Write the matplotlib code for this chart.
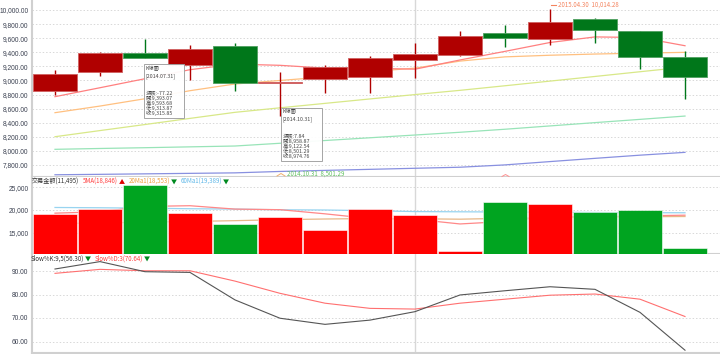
import matplotlib
matplotlib.use("Agg")
import matplotlib.pyplot as plt
from matplotlib.patches import Rectangle
from matplotlib.lines import Line2D
import numpy as np

plt.rcParams['font.family'] = ['Noto Sans CJK TC', 'DejaVu Sans']

# ---------------- data ----------------
dates = ["2014.05.30", "2014.06.30", "2014.07.31", "2014.08.29", "2014.09.30",
         "2014.10.31", "2014.11.28", "2014.12.31", "2015.01.30", "2015.02.26",
         "2015.03.31", "2015.04.30", "2015.05.29", "2015.06.30", "2015.07.31"]
opens  = [8855, 9116, 9393.07, 9219, 9489, 8958.87, 9017, 9045, 9290, 9361, 9674, 9584, 9868, 9697, 9328]
highs  = [9148, 9408, 9593.68, 9503, 9536, 9122.54, 9219, 9347, 9536, 9702, 9787, 10014.28, 9886, 9697, 9418]
lows   = [8793, 9063, 9313.87, 9006, 8855, 8501.29, 8826, 8826, 9040, 9351, 9470, 9503, 9536, 9167, 8741]
closes = [9092, 9393.07, 9315.85, 9450, 8966.92, 8974.76, 9196, 9314, 9375, 9631, 9598, 9830, 9712, 9328, 9053]

ma5   = [8770, 8897, 9025, 9153, 9232, 9215, 9176, 9174, 9160, 9291, 9413, 9539, 9618, 9610, 9493]
ma10  = [8543, 8637, 8741, 8855, 8950, 9000, 9050, 9125, 9175, 9275, 9335, 9358, 9375, 9388, 9399]
ma20  = [8202, 8289, 8375, 8462, 8548, 8612, 8675, 8738, 8800, 8860, 8925, 8991, 9057, 9124, 9190]
ma60  = [8023, 8035, 8046, 8058, 8070, 8109, 8148, 8187, 8226, 8265, 8308, 8355, 8402, 8448, 8495]
ma120 = [7662, 7668, 7675, 7682, 7689, 7709, 7724, 7739, 7754, 7769, 7802, 7849, 7895, 7940, 7980]

volume = [19111, 20289, 25556, 19259, 16889, 18370, 15556, 20148, 18889, 10889, 21704, 21407, 19481, 20000, 11495]
vol_ma5  = [19300, 19600, 20800, 20950, 20200, 20070, 19150, 18100, 17950, 16900, 17450, 18600, 18450, 18700, 18846]
vol_ma20 = [17000, 17100, 17300, 17450, 17630, 17850, 18000, 18100, 18050, 17960, 18150, 18300, 18400, 18500, 18553]
vol_ma60 = [20560, 20500, 20400, 20280, 20200, 20050, 20000, 19850, 19650, 19600, 19550, 19500, 19450, 19400, 19389]

slow_k = [90.85, 94.0, 89.7, 89.4, 77.7, 69.9, 67.3, 69.1, 72.7, 79.8, 81.6, 83.3, 82.2, 72.4, 56.3]
slow_d = [89.0, 90.7, 90.1, 90.1, 85.7, 80.5, 76.3, 74.1, 73.8, 76.3, 78.0, 79.7, 80.2, 78.0, 70.64]

price_ticks = [7800, 8000, 8200, 8400, 8600, 8800, 9000, 9200, 9400, 9600, 9800, 10000]
vol_ticks = [15000, 20000, 25000]
stoch_ticks = [60, 70, 80, 90]

tooltips = [
    (2, ["K線圖", "[2014.07.31]", "", "漲跌:-77.22", "開:9,393.07", "高:9,593.68", "低:9,313.87", "收:9,315.85"]),
    (5, ["K線圖", "[2014.10.31]", "", "漲跌:7.84", "開:8,958.87", "高:9,122.54", "低:8,501.29", "收:8,974.76"]),
]

# ---------------- style ----------------
W, H = 720, 354
C_UP, C_DN = "#b00000", "#00771a"
C_UP_E, C_DN_E = "#d06060", "#50a060"
V_UP, V_DN = "#ff0000", "#00a420"
GRID = "#d8d8d8"
SPINE = "#d0d0d0"
TXT = "#3a4050"
TICKFONT = ["Liberation Sans", "DejaVu Sans"]

def fx(x):
    return x / W

def fy(y):
    return 1 - y / H

fig = plt.figure(figsize=(W / 100, H / 100), dpi=100)
fig.patch.set_facecolor("white")
renderer = fig.canvas.get_renderer()

L, R = 32, 720
def add_ax(top, bottom):
    return fig.add_axes([fx(L), fy(bottom), fx(R - L), (bottom - top) / H])

ax1 = add_ax(0, 177)
ax2 = add_ax(177, 253.5)
ax3 = add_ax(253.5, 353)

x = np.arange(len(dates))
xlim = ((L - 55) / 45, (R - 55) / 45)

for ax in (ax1, ax2, ax3):
    ax.set_xlim(*xlim)
    ax.set_xticks([])
    for s in ("top", "right"):
        ax.spines[s].set_visible(False)
    ax.spines["left"].set_color(SPINE)
    ax.spines["left"].set_linewidth(1.5)
    ax.spines["bottom"].set_color(SPINE)
    ax.spines["bottom"].set_linewidth(1.5)
    ax.tick_params(axis="y", length=0, labelsize=4.8, labelcolor=TXT, pad=2.5)
    ax.grid(axis="y", color=GRID, linestyle=(0, (1.5, 2)), linewidth=0.7)
    ax.set_axisbelow(True)
    ax.axvline(8, color="#d8d8d8", linewidth=1.0, zorder=0.5)

# ---------------- main panel ----------------
ax1.set_ylim(10000 - 167 * 14.19, 10000 + 10 * 14.19)
ax1.set_yticks(price_ticks)
ax1.set_yticklabels([f"{v:,.2f}" for v in price_ticks], family=TICKFONT)

for col, vals in (("#8890e0", ma120), ("#98e4b8", ma60), ("#d8e888", ma20),
                  ("#ffc080", ma10), ("#ff8080", ma5)):
    ax1.plot(x, vals, color=col, linewidth=0.9, zorder=2)

for i in range(len(dates)):
    o, h, l, c = opens[i], highs[i], lows[i], closes[i]
    up = c >= o
    col = C_UP if up else C_DN
    ecol = C_UP_E if up else C_DN_E
    ax1.vlines(x[i], l, h, color=col, linewidth=1.0, zorder=3)
    bot = min(o, c)
    hgt = max(abs(c - o), 12)
    ax1.bar(x[i], hgt, bottom=bot, width=0.98, color=col, edgecolor=ecol,
            linewidth=0.6, zorder=4)

# ---------------- volume panel ----------------
ax2.set_ylim(20000 - 43.5 * 222.2, 20000 + 33 * 222.2)
ax2.set_yticks(vol_ticks)
ax2.set_yticklabels([f"{v:,}" for v in vol_ticks], family=TICKFONT)
ax2.plot(x, vol_ma60, color="#98d4f0", linewidth=0.9, zorder=2)
ax2.plot(x, vol_ma20, color="#e8b888", linewidth=0.9, zorder=2)
ax2.plot(x, vol_ma5, color="#ff8888", linewidth=0.9, zorder=2)
vcols = [V_UP if closes[i] >= opens[i] else V_DN for i in range(len(dates))]
ax2.bar(x, [v - 5000 for v in volume], bottom=5000, width=0.98, color=vcols,
        edgecolor="white", linewidth=0.4, zorder=3)

# ---------------- stochastic panel ----------------
ax3.set_ylim(90 - 82 / 2.35, 90 + 17.5 / 2.35)
ax3.set_yticks(stoch_ticks)
ax3.set_yticklabels([f"{v:.2f}" for v in stoch_ticks], family=TICKFONT)
ax3.plot(x, slow_d, color="#ff7070", linewidth=0.8, zorder=2)
ax3.plot(x, slow_k, color="#555555", linewidth=0.8, zorder=3)

# ---------------- texts ----------------
FS = 4.4
def ftext(px, py, s, color, size=FS, **kw):
    return fig.text(fx(px), fy(py), s, color=color, fontsize=size, va="center", ha="left", **kw)

def seq_text(px, py, parts):
    cur = px
    for s, color, gap in parts:
        t = ftext(cur, py, s, color)
        bb = t.get_window_extent(renderer=renderer)
        cur = cur + bb.width + gap

seq_text(32, 181.5, [("交易金額(11,495)", "#333333", 4),
                      ("5MA(18,846)", "#ff4040", 0.5), ("▲", "#e00000", 4),
                      ("20Ma1(18,553)", "#f0a040", 0.5), ("▼", "#008a20", 4),
                      ("60Ma1(19,389)", "#60b8e8", 0.5), ("▼", "#008a20", 0)])

seq_text(31, 258.5, [("Slow%K:9,5(56.30)", "#333333", 0.5), ("▼", "#008a20", 4),
                      ("Slow%D:3(70.64)", "#ff4040", 0.5), ("▼", "#008a20", 0)])

# high / low annotations
fig.add_artist(Line2D([fx(551), fx(556)], [fy(4.5), fy(4.5)], color="#f4845f", linewidth=0.8))
ftext(558, 4.5, "2015.04.30  10,014.28", "#f4845f")
fig.add_artist(Line2D([fx(277), fx(281), fx(285)], [fy(176), fy(173.5), fy(176)],
                      color="#f0b070", linewidth=0.7))
ftext(287, 173.5, "2014.10.31  8,501.29", "#60c060")
fig.add_artist(Line2D([fx(502), fx(505.5), fx(509)], [fy(176.5), fy(174.5), fy(176.5)],
                      color="#ff9090", linewidth=0.7))

# tooltips
boxes = {2: (144, 64.5, 184, 118), 5: (281, 107.5, 322, 160.5)}
for idx, lines in tooltips:
    x0, y0, x1, y1 = boxes[idx]
    fig.add_artist(Rectangle((fx(x0), fy(y1)), fx(x1 - x0), (y1 - y0) / H,
                             facecolor="white", edgecolor="#a0a0a0", linewidth=0.7,
                             alpha=0.95, zorder=10))
    ys = [y0 + 3.8, y0 + 11.5, None, y0 + 28.8, y0 + 33.8, y0 + 38.8, y0 + 43.8, y0 + 48.8]
    for s, yy in zip(lines, ys):
        if yy is None or not s:
            continue
        fig.text(fx(x0 + 1.5), fy(yy), s, color="#444444", fontsize=3.8,
                 va="center", ha="left", zorder=11)

fig.savefig("out.png", dpi=100, facecolor="white")
